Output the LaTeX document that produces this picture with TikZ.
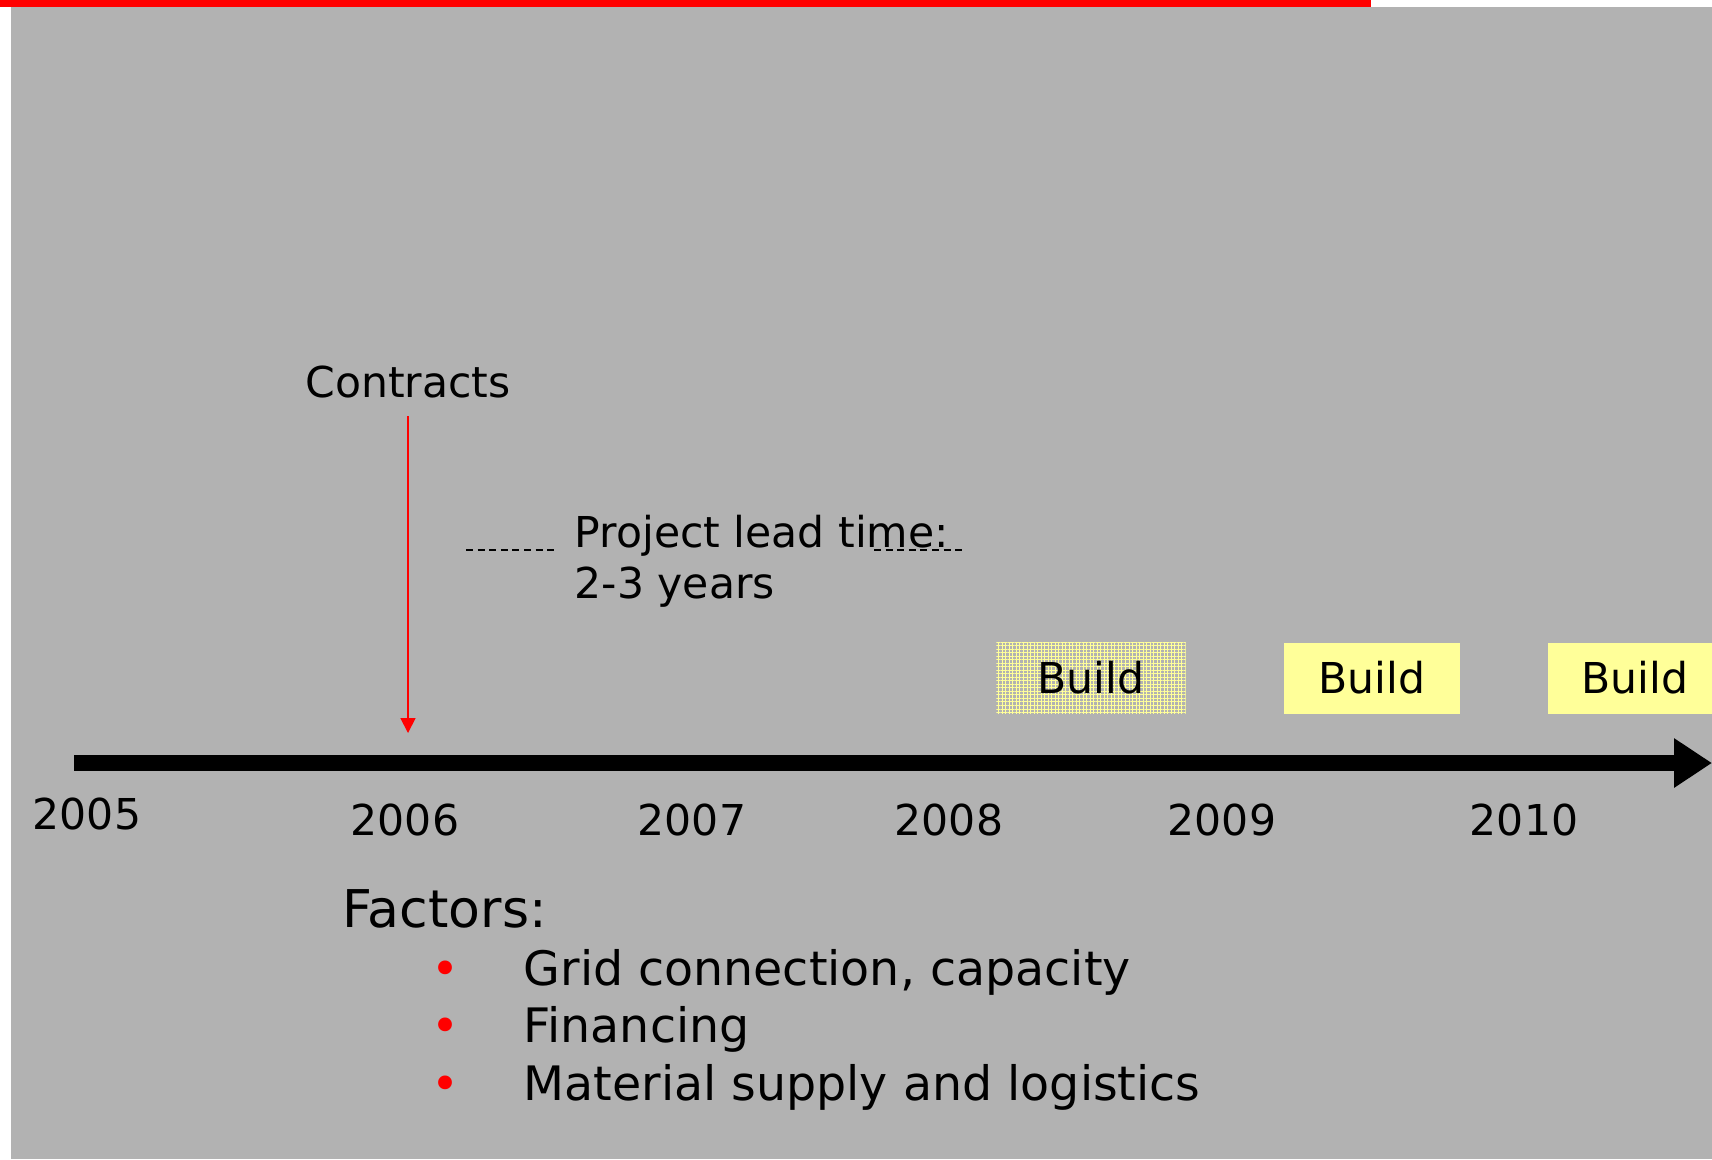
\documentclass[tikz,border=0pt]{standalone}
\usepackage{fontspec}
\setmainfont{DejaVu Sans}
\usetikzlibrary{arrows.meta, positioning, patterns.meta}

\definecolor{slidegray}{RGB}{178,178,178}
\definecolor{buildyellow}{RGB}{255,255,153}

\begin{document}
\begin{tikzpicture}[
    x=0.01cm, y=-0.01cm,
    txt/.style={font=\fontsize{12.1}{14}\selectfont, inner sep=0pt},
    buildbox/.style={txt, fill=buildyellow, minimum height=0.71cm},
    leadline/.style={line width=0.3pt, dash pattern=on 2pt off 1.3pt},
    item/.style={font=\fontsize{13.5}{16}\selectfont, inner sep=0pt}
  ]
  % Slide background
  \useasboundingbox (0,0) rectangle (1712,1159);
  \clip (0,0) rectangle (1712,1159);
  \fill[white] (0,0) rectangle (1712,1159);
  \fill[slidegray] (11,7) rectangle (1712,1159);
  \fill[red] (0,0) rectangle (1371,7);

  % Contract signing
  \node[txt, anchor=base] (contracts) at (408,397) {Contracts};
  \coordinate (signed) at (408,733);
  \draw[red, line width=0.5pt, shorten <=0.18cm,
        -{Triangle[length=0.15cm, width=0.15cm]}] (contracts.south) -- (signed);

  % Lead time note
  \node[txt, anchor=base west] (lead1) at (574,547) {Project lead time:};
  \node[txt, anchor=base west] (lead2) at (574,598) {2-3 years};
  \draw[leadline] (466,550) -- (555,550);
  \draw[leadline] (874,550) -- (963,550);

  % Build phases
  \node[buildbox, minimum width=1.89cm, fill=none,
        preaction={fill=slidegray},
        pattern={Lines[angle=0, distance=1pt, line width=0.2pt]},
        pattern color=buildyellow,
        postaction={pattern={Lines[angle=90, distance=1pt, line width=0.2pt]},
                    pattern color=buildyellow}] (build1) at (1091,678) {Build};
  \node[buildbox, minimum width=1.75cm] (build2) at (1372,678) {Build};
  \node[buildbox, minimum width=1.74cm] (build3) at (1635,678) {Build};

  % Timeline
  \coordinate (t0) at (74,763);
  \coordinate (t1) at (1712,763);
  \draw[line width=0.16cm, -{Triangle[length=0.38cm, width=0.47cm]}] (t0) -- (t1);

  % Years
  \node[txt, anchor=base] (y2005) at (87,829) {2005};
  \foreach \yr/\x in {2006/405, 2007/692, 2008/949, 2009/1222, 2010/1524} {
    \node[txt, anchor=base] (y\yr) at (\x,835) {\yr};
  }

  % Factors list
  \node[font=\fontsize{14.8}{17}\selectfont, inner sep=0pt, anchor=base west]
    (factors) at (342,927) {Factors:};
  \foreach \txt [count=\i] in {{Grid connection, capacity}, Financing,
                               {Material supply and logistics}} {
    \node[item, text=red, anchor=base] (dot\i) at (445,985+57.5*\i-57.5) {•};
    \node[item, anchor=base west] (item\i) at (523,985+57.5*\i-57.5) {\txt};
  }
\end{tikzpicture}
\end{document}
